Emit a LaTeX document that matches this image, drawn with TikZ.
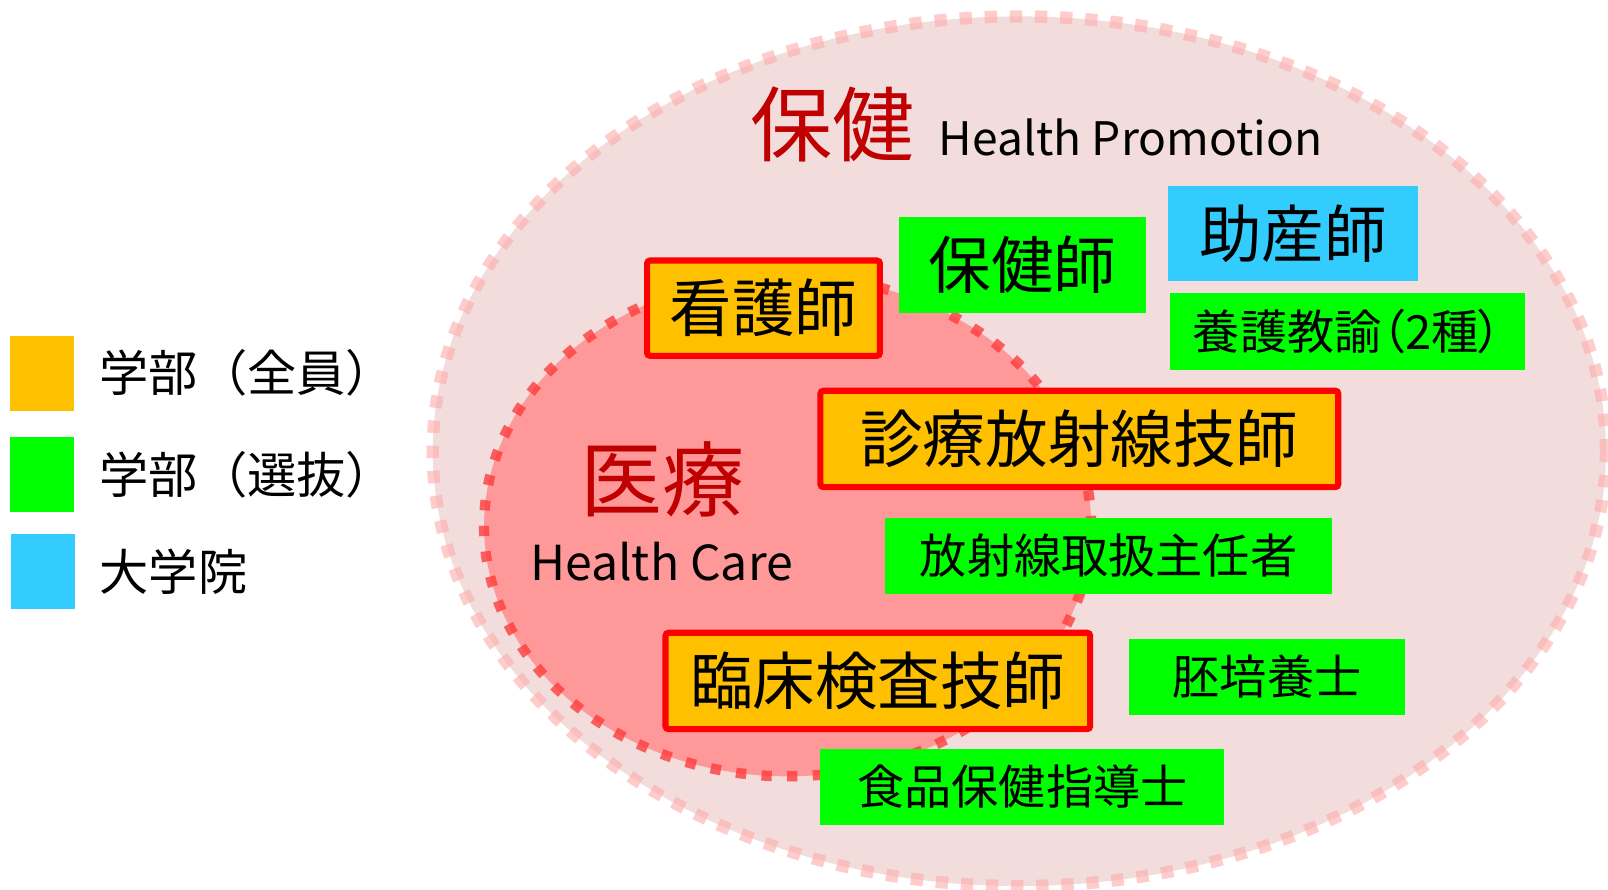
\documentclass[tikz,border=0pt]{standalone}
\usepackage{fontspec}
\setmainfont{Noto Sans CJK JP}
\usepackage{tikz}

\definecolor{zenin}{RGB}{255,192,0}
\definecolor{senbatsu}{RGB}{0,255,0}
\definecolor{daigakuin}{RGB}{51,204,255}
\definecolor{titlered}{RGB}{192,0,0}
\definecolor{hokenfill}{RGB}{242,220,220}
\definecolor{hokenline}{RGB}{255,170,170}
\definecolor{iryofill}{RGB}{255,153,153}
\definecolor{iryoline}{RGB}{255,60,60}

\tikzset{
	bigjp/.style={font=\fontsize{61}{70}\selectfont},
	smalljp/.style={font=\fontsize{46}{54}\selectfont},
	zenbox/.style={fill=zenin,draw=red,line width=6pt,rounded corners=3pt,inner sep=0pt},
	senbox/.style={fill=senbatsu,inner sep=0pt},
	inbox/.style={fill=daigakuin,inner sep=0pt},
	legendkey/.style={inner sep=0pt,minimum width=62pt,minimum height=73pt},
	legendtext/.style={anchor=west,inner sep=0pt,font=\fontsize{48}{58}\selectfont},
	areatitle/.style={text=titlered,inner sep=0pt,font=\fontsize{80}{90}\selectfont},
	areasub/.style={inner sep=0pt}
}

\begin{document}
\begin{tikzpicture}[x=1pt,y=-1pt]
	\useasboundingbox (0,0) rectangle (1568,867);

	% areas
	\draw[fill=hokenfill,draw=hokenline,draw opacity=0.6,line width=12pt,dash pattern=on 12pt off 12.5pt] (994,440) ellipse [x radius=572pt, y radius=424pt];
	\draw[fill=iryofill,draw=iryoline,draw opacity=0.8,line width=10pt,dash pattern=on 10pt off 15pt] (768,513) ellipse [x radius=296pt, y radius=244pt];

	\node[areatitle] (hokenTitle) at (811.5,121.5) {保健};
	\node[areasub,anchor=base west,font=\fontsize{45}{54}\selectfont] (hokenSub) at (915,152) {Health Promotion};
	\node[areatitle] (iryoTitle) at (646,467) {医療};
	\node[areasub,anchor=base,font=\fontsize{47}{56}\selectfont] (iryoSub) at (645,566) {Health Care};

	% legend
	\node[legendkey,fill=zenin] (keyZen) at (41,364.5) {};
	\node[legendkey,fill=senbatsu] (keySen) at (41,463) {};
	\node[legendkey,fill=daigakuin] (keyIn) at (42,557.5) {};
	\node[legendtext] (textZen) at (97,364) {学部（全員）};
	\node[legendtext] (textSen) at (97,463) {学部（選抜）};
	\node[legendtext] (textIn) at (97,557) {大学院};

	% qualifications
	\node[zenbox,bigjp,minimum width=227pt,minimum height=93pt] (kango) at (744.5,300.5) {看護師};
	\node[senbox,bigjp,minimum width=240pt,minimum height=93pt] (hokenshi) at (997,258.5) {保健師};
	\node[inbox,bigjp,minimum width=244pt,minimum height=93pt] (josan) at (1261,227.5) {助産師};
	\node[senbox,smalljp,minimum width=346pt,minimum height=75pt] (yogo) at (1314,323.5) {\addfontfeatures{RawFeature=+palt}養護教諭（2種）};

	\node[zenbox,bigjp,minimum width=505pt,minimum height=94pt] (shinryo) at (1052.5,428) {診療放射線技師};
	\node[senbox,smalljp,minimum width=436pt,minimum height=74pt] (toriatsukai) at (1081,542) {放射線取扱主任者};

	\node[zenbox,bigjp,minimum width=414pt,minimum height=94pt] (rinsho) at (856,664) {臨床検査技師};
	\node[senbox,smalljp,minimum width=269pt,minimum height=74pt] (haibaiyo) at (1235.5,660) {胚培養士};
	\node[senbox,smalljp,minimum width=394pt,minimum height=74pt] (shokuhin) at (997,767) {食品保健指導士};
\end{tikzpicture}
\end{document}
